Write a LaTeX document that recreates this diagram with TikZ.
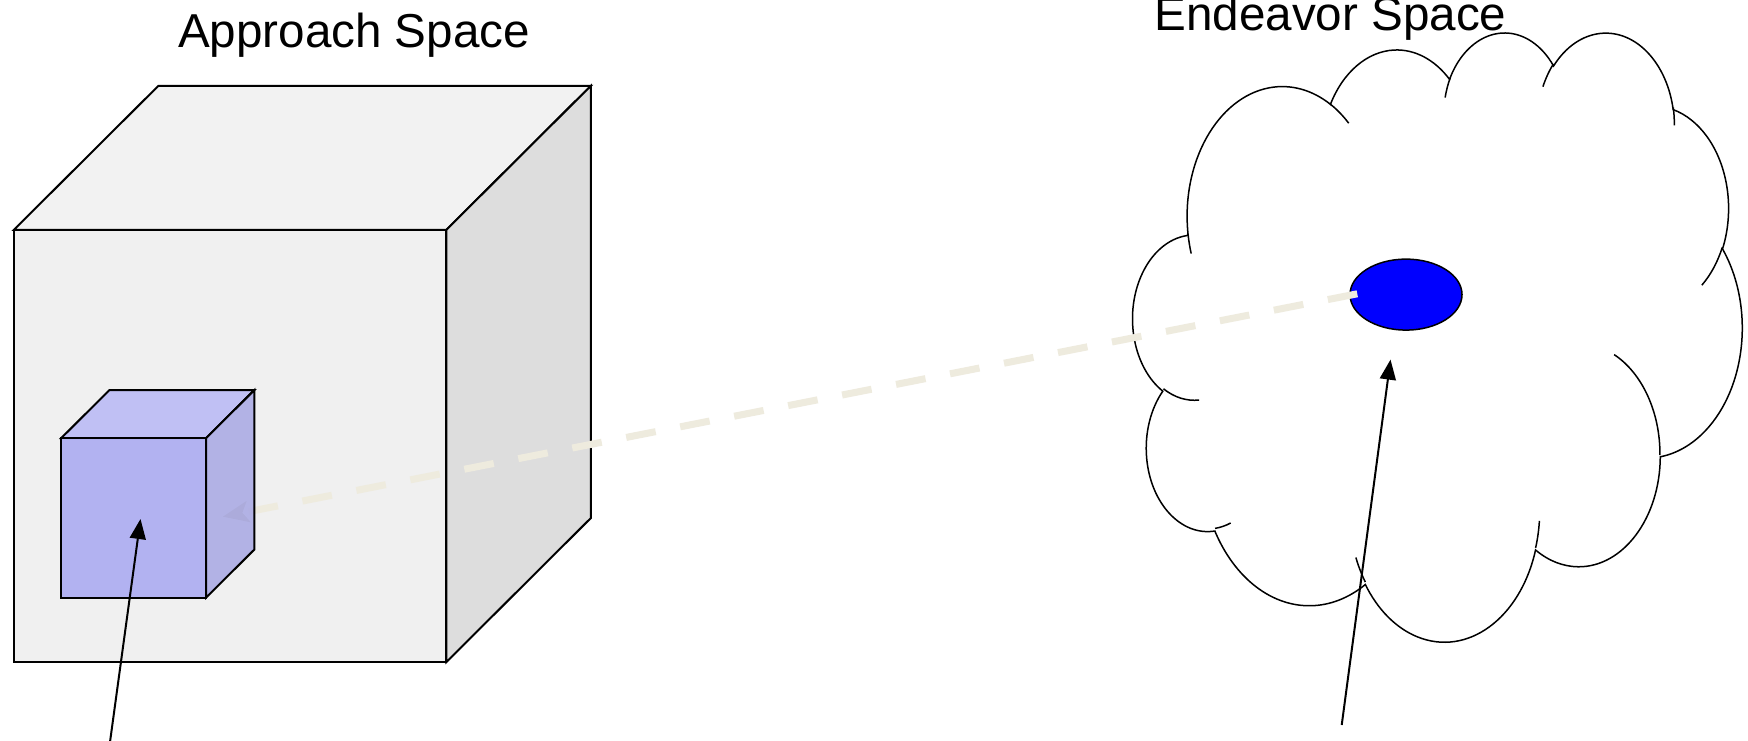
\documentclass[tikz,border=0pt]{standalone}
\usepackage{fontspec}
\setmainfont{Liberation Sans}
\usetikzlibrary{arrows.meta,shapes.geometric}
\makeatletter
\pgfmathdeclarefunction{vispar}{3}{%
  \begingroup
    \pgfmathparse{atan2((#2)*sin(#1),(#3)*cos(#1))-(#1)}%
    \pgfmathparse{(#1)+\pgfmathresult-360*round(\pgfmathresult/360)}%
    \pgfmath@smuggleone\pgfmathresult
  \endgroup}
\makeatother
\newcommand\ooarc[4]{arc[start angle={vispar(#3,#1,#2)}, end angle={vispar((#3)+(#4),#1,#2)}, x radius=#1, y radius=#2]}
\definecolor{bigfront}{RGB}{240,240,240}
\definecolor{bigtop}{RGB}{242,242,242}
\definecolor{bigside}{RGB}{221,221,221}
\definecolor{smfront}{RGB}{168,168,242}
\definecolor{smtop}{RGB}{184,184,245}
\definecolor{smside}{RGB}{168,168,228}
\definecolor{dashcol}{RGB}{238,235,222}
\definecolor{tipcol}{RGB}{196,194,168}
\tikzset{
  edgeline/.style={draw=black, line width=1pt, line join=miter},
  cloudline/.style={draw=black, line width=0.75pt},
  pointer/.style={draw=black, line width=1pt, -{Triangle[length=10pt,width=8pt]}},
  link/.style={draw=dashcol, line width=3.5pt, dash pattern=on 15pt off 12.5pt,
    -{Stealth[length=13pt,width=10.5pt,inset=3pt,color=tipcol]}},
  label/.style={font=\fontsize{23.8}{28}\selectfont, inner sep=0pt, anchor=base},
}
\begin{document}
\begin{tikzpicture}[x=0.5pt,y=-0.5pt]
\fill[white] (0,0) rectangle (1748,740);
\useasboundingbox (0,0) rectangle (1748,740);

% big cube
\coordinate (b1) at (13.9,229.8);
\coordinate (b2) at (446.4,229.8);
\coordinate (b3) at (446.4,662);
\coordinate (b4) at (13.9,662);
\coordinate (b5) at (158.4,85.8);
\coordinate (b6) at (590.9,85.8);
\coordinate (b7) at (590.9,518);
\path[edgeline, fill=bigtop] (b1) -- (b5) -- (b6) -- (b2) -- cycle;
\path[edgeline, fill=bigside] (b2) -- (b6) -- (b7) -- (b3) -- cycle;
\path[edgeline, fill=bigfront] (b1) -- (b2) -- (b3) -- (b4) -- cycle;

\node[label] (t1) at (354,47) {Approach Space};
\node[label] (t2) at (1330.5,30) {Endeavor Space};

% cloud
\begin{scope}[shift={(1133,31)}, scale=1.4097]
\path[cloudline, fill=white] (39.00,143.70)
  \ooarc{67.53}{91.90}{-190.48748}{123.78053}
  \ooarc{53.33}{72.67}{-144.10238}{89.94523}
  \ooarc{43.65}{59.45}{-145.80792}{99.72302}
  \ooarc{48.57}{65.95}{-130.98607}{117.24173}
  \ooarc{53.33}{72.73}{-78.70888}{109.02692}
  \ooarc{67.75}{92.20}{-46.26725}{130.269}
  \ooarc{57.85}{78.67}{0.62502}{114.03333}
  \ooarc{67.52}{92.15}{22.4516}{115.17255}
  \ooarc{77.20}{105.43}{66.24263}{75.71102}
  \ooarc{43.60}{59.18}{-274.94208}{146.73557}
  \ooarc{43.45}{59.45}{-246.8285}{152.51885}
  -- cycle;
\path[cloudline]
  (46.93,261.77) \ooarc{43.45}{59.45}{86.742}{26.4295}
  (69.28,348.99) \ooarc{43.60}{59.18}{73.61047}{11.44747}
  (164.78,390.90) \ooarc{67.52}{92.15}{137.62415}{14.0811}
  (288.27,347.51) \ooarc{67.52}{92.15}{6.45327}{15.99835}
  (341.29,229.54) \ooarc{57.85}{78.67}{-70.29235}{70.91737}
  (417.98,153.54) \ooarc{53.33}{72.73}{30.31803}{27.7515}
  (383.24,54.26) \ooarc{48.57}{65.95}{-13.74433}{14.8589}
  (290.78,39.52) \ooarc{48.57}{65.95}{-149.18145}{18.19537}
  (221.41,47.20) \ooarc{43.65}{59.45}{-163.49427}{17.68635}
  (140.00,51.92) \ooarc{67.53}{91.90}{-66.70695}{12.31935}
  (41.27,157.89) \ooarc{67.53}{91.90}{157.65435}{11.85817};
\end{scope}

% goal ellipse
\node[ellipse, draw=black, line width=0.75pt, fill=blue, inner sep=0pt,
      minimum width=56pt, minimum height=35.5pt] (goal) at (1406,294.6) {};

% dashed link
\coordinate (tipA) at (222.7,516.7);
\draw[link] ([xshift=4pt,yshift=0.4pt]goal.west) -- (tipA);

% small cube (translucent)
\coordinate (s1) at (61.3,438);
\coordinate (s2) at (206.2,438);
\coordinate (s3) at (206.2,597.5);
\coordinate (s4) at (61.3,597.5);
\coordinate (s5) at (109.5,390);
\coordinate (s6) at (254.4,390);
\coordinate (s7) at (254.4,549.5);
\path[edgeline, fill=smtop, fill opacity=0.85] (s1) -- (s5) -- (s6) -- (s2) -- cycle;
\path[edgeline, fill=smside, fill opacity=0.85] (s2) -- (s6) -- (s7) -- (s3) -- cycle;
\path[edgeline, fill=smfront, fill opacity=0.85] (s1) -- (s2) -- (s3) -- (s4) -- cycle;

% pointers
\coordinate (p1s) at (110,742);
\coordinate (p1e) at (140.5,519);
\coordinate (p2s) at (1341.7,725);
\coordinate (p2e) at (1390.5,359.6);
\draw[pointer] (p1s) -- (p1e);
\draw[pointer] (p2s) -- (p2e);
\end{tikzpicture}
\end{document}
